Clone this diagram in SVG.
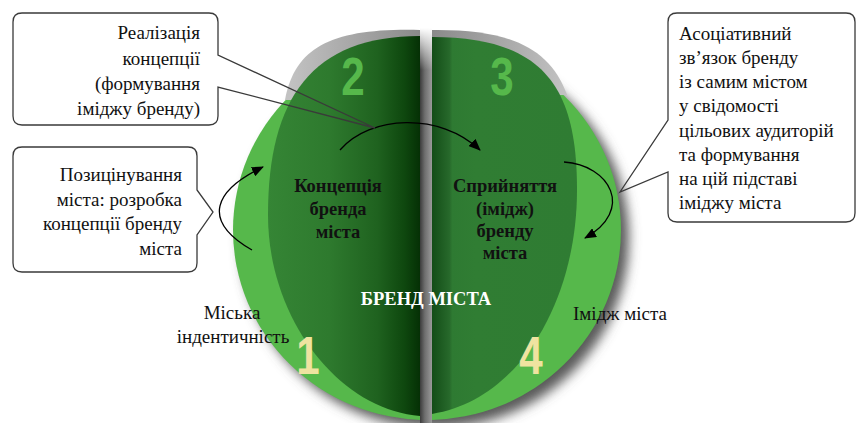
<svg xmlns="http://www.w3.org/2000/svg" width="862" height="423" viewBox="0 0 862 423">
<defs>
<style>
.t{font-family:"Liberation Serif","Times New Roman",serif;font-size:19px;fill:#111}
.b{font-family:"Liberation Serif","Times New Roman",serif;font-size:18.5px;font-weight:bold;fill:#111;text-anchor:middle}
.w{font-family:"Liberation Serif","Times New Roman",serif;font-size:18.5px;font-weight:bold;fill:#fff;text-anchor:middle}
.n{font-family:"Liberation Sans",Arial,sans-serif;font-weight:bold;font-size:54px;text-anchor:middle}
.lg{fill:#56b84b}
.box{fill:#fff;stroke:none}
.outline{fill:none;stroke:#3a3a3a;stroke-width:1.3;stroke-linejoin:miter}
.arr{fill:none;stroke:#000;stroke-width:1.3;marker-end:url(#ah)}
</style>
<marker id="ah" markerWidth="12" markerHeight="10" refX="11" refY="5" orient="auto" markerUnits="userSpaceOnUse"><path d="M0,0 L12,5 L0,10 Z" fill="#000"/></marker>
<filter id="blur" x="-20%" y="-20%" width="140%" height="140%"><feGaussianBlur stdDeviation="6"/></filter>
<clipPath id="cl"><rect x="0" y="0" width="420" height="423"/></clipPath>
<clipPath id="cr"><rect x="432" y="0" width="430" height="423"/></clipPath>
<linearGradient id="gl" x1="268" y1="0" x2="420" y2="0" gradientUnits="userSpaceOnUse">
<stop offset="0" stop-color="#358535"/><stop offset="0.4" stop-color="#2e7a2e"/><stop offset="0.72" stop-color="#1f621f"/><stop offset="0.9" stop-color="#0e470e"/><stop offset="1" stop-color="#053005"/>
</linearGradient>
<linearGradient id="gr" x1="432" y1="0" x2="577" y2="0" gradientUnits="userSpaceOnUse">
<stop offset="0" stop-color="#134d17"/><stop offset="0.12" stop-color="#27692b"/><stop offset="0.14" stop-color="#2e7a32"/><stop offset="0.3" stop-color="#307d33"/><stop offset="1" stop-color="#2f7c33"/>
</linearGradient>
<linearGradient id="gap" x1="420" y1="0" x2="432" y2="0" gradientUnits="userSpaceOnUse">
<stop offset="0" stop-color="#3c3c3c"/><stop offset="0.4" stop-color="#6e6e6e"/><stop offset="1" stop-color="#9a9a9a"/>
</linearGradient>
<linearGradient id="gapTop" x1="0" y1="28" x2="0" y2="70" gradientUnits="userSpaceOnUse">
<stop offset="0" stop-color="#fff" stop-opacity="1"/><stop offset="1" stop-color="#fff" stop-opacity="0"/>
</linearGradient>
<linearGradient id="rimL" x1="290" y1="0" x2="420" y2="0" gradientUnits="userSpaceOnUse">
<stop offset="0" stop-color="#c2c2c2"/><stop offset="1" stop-color="#8a8a8a"/>
</linearGradient>
<linearGradient id="rimR" x1="432" y1="0" x2="565" y2="0" gradientUnits="userSpaceOnUse">
<stop offset="0" stop-color="#8a8a8a"/><stop offset="1" stop-color="#c2c2c2"/>
</linearGradient>
</defs>
<rect width="862" height="423" fill="#fff"/>

<g id="sphere">
<ellipse cx="435" cy="238" rx="194" ry="190" fill="#5a5a5a" filter="url(#blur)"/>
<rect x="420" y="28" width="12" height="395" fill="url(#gap)"/>
<rect x="420" y="26" width="12" height="44" fill="url(#gapTop)"/>
<ellipse class="lg" cx="427" cy="230" rx="194" ry="190" clip-path="url(#cl)"/>
<ellipse class="lg" cx="427" cy="230" rx="194" ry="190" clip-path="url(#cr)"/>
</g>

<g id="leaf-left">
<path d="M420,30 C335,28 295,45 285,100 L420,100 Z" fill="url(#rimL)"/>
<path d="M420,36 C312,36 268,98 268,215 C268,320 340,410 420,416 Z" fill="url(#gl)"/>
</g>
<g id="leaf-right">
<path d="M432,30 C510,29 550,48 567,95 L432,95 Z" fill="url(#rimR)"/>
<path d="M432,37 C548,37 577,92 577,190 C577,300 520,400 432,414 Z" fill="url(#gr)"/>
</g>

<g id="numbers">
<text class="n" transform="translate(353,95) scale(0.78,1)" fill="#56b84b">2</text>
<text class="n" transform="translate(502,95) scale(0.78,1)" fill="#56b84b">3</text>
<text class="n" transform="translate(308,374) scale(0.78,1)" fill="#efe3a0">1</text>
<text class="n" transform="translate(531,374) scale(0.78,1)" fill="#efe3a0">4</text>
</g>

<g id="concept">
<text class="b" x="338" y="192">Концепція</text>
<text class="b" x="338" y="215">бренда</text>
<text class="b" x="338" y="238">міста</text>
</g>
<g id="perception">
<text class="b" x="505" y="192">Сприйняття</text>
<text class="b" x="505" y="215">(імідж)</text>
<text class="b" x="505" y="237">бренду</text>
<text class="b" x="505" y="259">міста</text>
</g>
<g id="brand">
<text class="w" x="426" y="305">БРЕНД МІСТА</text>
</g>
<g id="identity">
<text class="t" x="232" y="319" text-anchor="middle">Міська</text>
<text class="t" x="233" y="343" text-anchor="middle">індентичність</text>
</g>
<g id="image">
<text class="t" x="573" y="320">Імідж міста</text>
</g>

<g id="connectors">
<path class="arr" d="M252,250 C200,220 215,190 263,167"/>
<path class="arr" d="M340,150 C370,115 440,112 480,150"/>
<path class="arr" d="M564,162 C610,165 635,210 585,238"/>
</g>

<g id="callout-realization">
<rect class="box" x="13" y="13" width="205" height="112" rx="9"/>
<path class="outline" d="M22,13 H209 Q218,13 218,22 V55 L375,128 L218,87 V116 Q218,125 209,125 H22 Q13,125 13,116 V22 Q13,13 22,13 Z"/>
<text class="t" x="200" y="39" text-anchor="end">Реалізація</text>
<text class="t" x="200" y="65" text-anchor="end">концепції</text>
<text class="t" x="200" y="90" text-anchor="end">(формування</text>
<text class="t" x="200" y="115" text-anchor="end">іміджу бренду)</text>
</g>

<g id="callout-positioning">
<rect class="box" x="13" y="147" width="184" height="125" rx="9"/>
<path class="outline" d="M22,147 H188 Q197,147 197,156 V190 L213,212 L197,235 V263 Q197,272 188,272 H22 Q13,272 13,263 V156 Q13,147 22,147 Z"/>
<text class="t" x="182" y="181" text-anchor="end">Позицінування</text>
<text class="t" x="182" y="205.5" text-anchor="end">міста: розробка</text>
<text class="t" x="182" y="230" text-anchor="end">концепції бренду</text>
<text class="t" x="182" y="254.5" text-anchor="end">міста</text>
</g>

<g id="callout-association">
<rect class="box" x="668" y="13" width="187" height="209" rx="9"/>
<path class="outline" d="M677,13 H846 Q855,13 855,22 V213 Q855,222 846,222 H677 Q668,222 668,213 V172 L620,192 L668,120 V22 Q668,13 677,13 Z"/>
<text class="t" x="679" y="40">Асоціативний</text>
<text class="t" x="679" y="64">зв’язок бренду</text>
<text class="t" x="679" y="88">із самим містом</text>
<text class="t" x="679" y="112">у свідомості</text>
<text class="t" x="679" y="136.5">цільових аудиторій</text>
<text class="t" x="679" y="160.5">та формування</text>
<text class="t" x="679" y="184.5">на цій підставі</text>
<text class="t" x="679" y="208.7">іміджу міста</text>
</g>
</svg>
